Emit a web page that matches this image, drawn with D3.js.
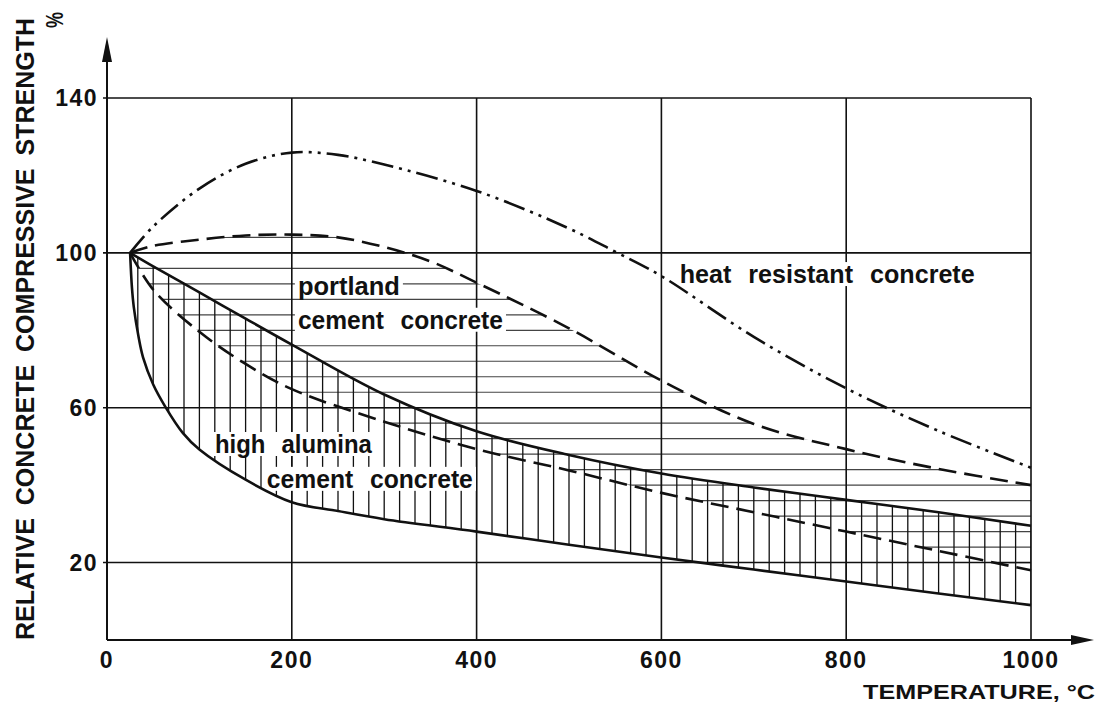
<!DOCTYPE html>
<html>
<head>
<meta charset="utf-8">
<script src="https://cdn.jsdelivr.net/npm/d3@7"></script>
<style>
  body { margin: 0; background: #fff; }
  text { font-family: "Liberation Sans", Arial, Helvetica, sans-serif; font-weight: bold; fill: #111; }
</style>
</head>
<body>
<div id="chart"></div>
<script>
// tick values
var xTicks = [0, 200, 400, 600, 800, 1000];
var yTicks = [20, 60, 100, 140];

// heat resistant concrete (dash-dot-dot)
var heatT = [25, 50, 100, 150, 200, 250, 300, 400, 500, 550, 600, 700, 800, 900, 1000];
var heatS = [100, 106.8, 116.6, 123, 125.9, 125.3, 122.8, 116, 106.3, 100.3, 94, 78.3, 65, 54, 44.5];

// portland cement concrete, upper and lower bound (dashed)
var portUpT = [25, 50, 100, 150, 200, 250, 300, 350, 400, 500, 600, 700, 800, 900, 1000];
var portUpS = [100, 101.8, 103.4, 104.5, 104.7, 104, 101.5, 97.8, 92.3, 80.5, 67, 55.8, 49.3, 44.2, 40];
var portLoT = [25, 50, 100, 150, 200, 300, 400, 500, 600, 700, 800, 900, 1000];
var portLoS = [100, 90.5, 79.6, 71.3, 64.8, 56.4, 49.3, 43.8, 38, 33, 28, 23, 18];

// high alumina cement concrete, upper and lower bound (solid)
var alUpT = [25, 50, 100, 150, 200, 300, 400, 500, 600, 700, 800, 900, 1000];
var alUpS = [100, 96.5, 89.8, 83, 76.3, 63.4, 53.9, 47.8, 43, 39.4, 36.2, 33, 29.5];
var alLoT = [25, 27, 29, 34, 39, 50, 63, 82, 100, 150, 200, 250, 300, 400, 500, 600, 700, 800, 900, 1000];
var alLoS = [100, 91, 86, 78.5, 73, 66, 60.3, 53.5, 49.2, 41.4, 35.6, 33.3, 31.2, 28, 24.6, 21.3, 18.2, 15.1, 12, 9];

// labels inside the plot: text, temperature and strength of baseline start
var labelText = ["portland", "cement concrete", "high alumina", "cement concrete", "heat resistant concrete"];
var labelT = [206.6, 206.6, 116.8, 173, 619.8];
var labelS = [89.1, 80.4, 48.3, 39.3, 92.2];
var labelLen = [102, 205, 157, 206, 295];

var width = 1097, height = 706;

var svg = d3.select("#chart")
    .append("svg")
    .attr("width", width)
    .attr("height", height);

var x = d3.scaleLinear().domain([0, 1000]).range([107, 1031]);
var y = d3.scaleLinear().domain([0, 140]).range([640, 98]);

function pts(ts, ss) {
    return ts.map(function (t, i) { return [t, ss[i]]; });
}

var line = d3.line()
    .x(function (d) { return x(d[0]); })
    .y(function (d) { return y(d[1]); })
    .curve(d3.curveCatmullRom.alpha(0.5));

// closed band between two curves (upper forward, lower backwards)
function band(up, lo) {
    var a = line(up);
    var b = line(lo.slice().reverse());
    return a + "L" + b.slice(1) + "Z";
}

var heat = pts(heatT, heatS),
    portUp = pts(portUpT, portUpS),
    portLo = pts(portLoT, portLoS),
    alUp = pts(alUpT, alUpS),
    alLo = pts(alLoT, alLoS);

var defs = svg.append("defs");
defs.append("clipPath").attr("id", "clipPort")
    .append("path").attr("d", band(portUp, portLo));
defs.append("clipPath").attr("id", "clipAl")
    .append("path").attr("d", band(alUp, alLo));

// horizontal hatching, every 4 %
svg.append("g")
    .attr("clip-path", "url(#clipPort)")
    .selectAll("line")
    .data(d3.range(4, 140, 4))
    .enter().append("line")
    .attr("x1", x(0)).attr("x2", x(1000))
    .attr("y1", function (d) { return y(d); })
    .attr("y2", function (d) { return y(d); })
    .attr("stroke", "#444")
    .attr("stroke-width", 1.2);

// vertical hatching, 12 per 200 degC
svg.append("g")
    .attr("clip-path", "url(#clipAl)")
    .selectAll("line")
    .data(d3.range(1, 61).map(function (k) { return k * 200 / 12; }))
    .enter().append("line")
    .attr("x1", function (d) { return x(d); })
    .attr("x2", function (d) { return x(d); })
    .attr("y1", y(0)).attr("y2", y(140))
    .attr("stroke", "#111")
    .attr("stroke-width", 1.3);

// grid
svg.append("g").selectAll("line")
    .data(yTicks)
    .enter().append("line")
    .attr("x1", x(0) - 4).attr("x2", x(1000))
    .attr("y1", function (d) { return y(d); })
    .attr("y2", function (d) { return y(d); })
    .attr("stroke", "#111")
    .attr("stroke-width", 1.6);

svg.append("g").selectAll("line")
    .data(xTicks.slice(1))
    .enter().append("line")
    .attr("x1", function (d) { return x(d); })
    .attr("x2", function (d) { return x(d); })
    .attr("y1", y(0)).attr("y2", y(140))
    .attr("stroke", "#111")
    .attr("stroke-width", 1.6);

// axes with arrows
svg.append("line")
    .attr("x1", x(0)).attr("x2", x(0))
    .attr("y1", y(0)).attr("y2", 50)
    .attr("stroke", "#111").attr("stroke-width", 2);
svg.append("path")
    .attr("d", "M" + x(0) + ",37L" + (x(0) - 5) + ",62L" + (x(0) + 5) + ",62Z")
    .attr("fill", "#111");

svg.append("line")
    .attr("x1", x(0)).attr("x2", 1080)
    .attr("y1", y(0)).attr("y2", y(0))
    .attr("stroke", "#111").attr("stroke-width", 2);
svg.append("path")
    .attr("d", "M1094," + y(0) + "L1071," + (y(0) - 5) + "L1071," + (y(0) + 5) + "Z")
    .attr("fill", "#111");

// tick labels
svg.append("g").selectAll("text")
    .data(xTicks)
    .enter().append("text")
    .attr("x", function (d) { return x(d); })
    .attr("y", 668)
    .attr("text-anchor", "middle")
    .attr("font-size", "23px")
    .attr("letter-spacing", "1.5px")
    .text(function (d) { return d; });

svg.append("g").selectAll("text")
    .data(yTicks)
    .enter().append("text")
    .attr("x", 98)
    .attr("y", function (d) { return y(d); })
    .attr("dy", "0.36em")
    .attr("text-anchor", "end")
    .attr("font-size", "23px")
    .attr("letter-spacing", "1.5px")
    .text(function (d) { return d; });

// axis titles
svg.append("text")
    .attr("transform", "translate(34,329) rotate(-90)")
    .attr("text-anchor", "middle")
    .attr("font-size", "25px")
    .attr("textLength", 622)
    .attr("lengthAdjust", "spacingAndGlyphs")
    .attr("word-spacing", "6px")
    .text("RELATIVE CONCRETE COMPRESSIVE STRENGTH");

svg.append("text")
    .attr("transform", "translate(63,20) rotate(-90)")
    .attr("text-anchor", "middle")
    .attr("font-size", "24px")
    .attr("textLength", 16)
    .attr("lengthAdjust", "spacingAndGlyphs")
    .text("%");

svg.append("text")
    .attr("x", 863)
    .attr("y", 699)
    .attr("font-size", "21px")
    .attr("textLength", 232)
    .attr("lengthAdjust", "spacingAndGlyphs")
    .text("TEMPERATURE, °C");

// labels with white background
var labels = svg.append("g");
var curvesG = svg.append("g");
var labelTexts = svg.append("g");

labelText.forEach(function (t, i) {
    var tx = labelTexts.append("text")
        .attr("x", x(labelT[i]))
        .attr("y", y(labelS[i]))
        .attr("font-size", "25px")
        .attr("word-spacing", "10px")
        .attr("textLength", labelLen[i])
        .attr("lengthAdjust", "spacingAndGlyphs")
        .text(t);
    var bb = tx.node().getBBox();
    labels.append("rect")
        .attr("x", bb.x - 3).attr("y", bb.y + 2)
        .attr("width", bb.width + 6).attr("height", bb.height - 4)
        .attr("fill", "#fff");
});

// curves
curvesG.append("path").datum(alUp)
    .attr("d", line).attr("fill", "none")
    .attr("stroke", "#111").attr("stroke-width", 2.6);
curvesG.append("path").datum(alLo)
    .attr("d", line).attr("fill", "none")
    .attr("stroke", "#111").attr("stroke-width", 2.6);
curvesG.append("path").datum(portUp)
    .attr("d", line).attr("fill", "none")
    .attr("stroke", "#111").attr("stroke-width", 2.6)
    .attr("stroke-dasharray", "18,8");
curvesG.append("path").datum(portLo)
    .attr("d", line).attr("fill", "none")
    .attr("stroke", "#111").attr("stroke-width", 2.6)
    .attr("stroke-dasharray", "18,8");
curvesG.append("path").datum(heat)
    .attr("d", line).attr("fill", "none")
    .attr("stroke", "#111").attr("stroke-width", 2.6)
    .attr("stroke-dasharray", "22,6,3,6,3,6");
</script>
</body>
</html>
